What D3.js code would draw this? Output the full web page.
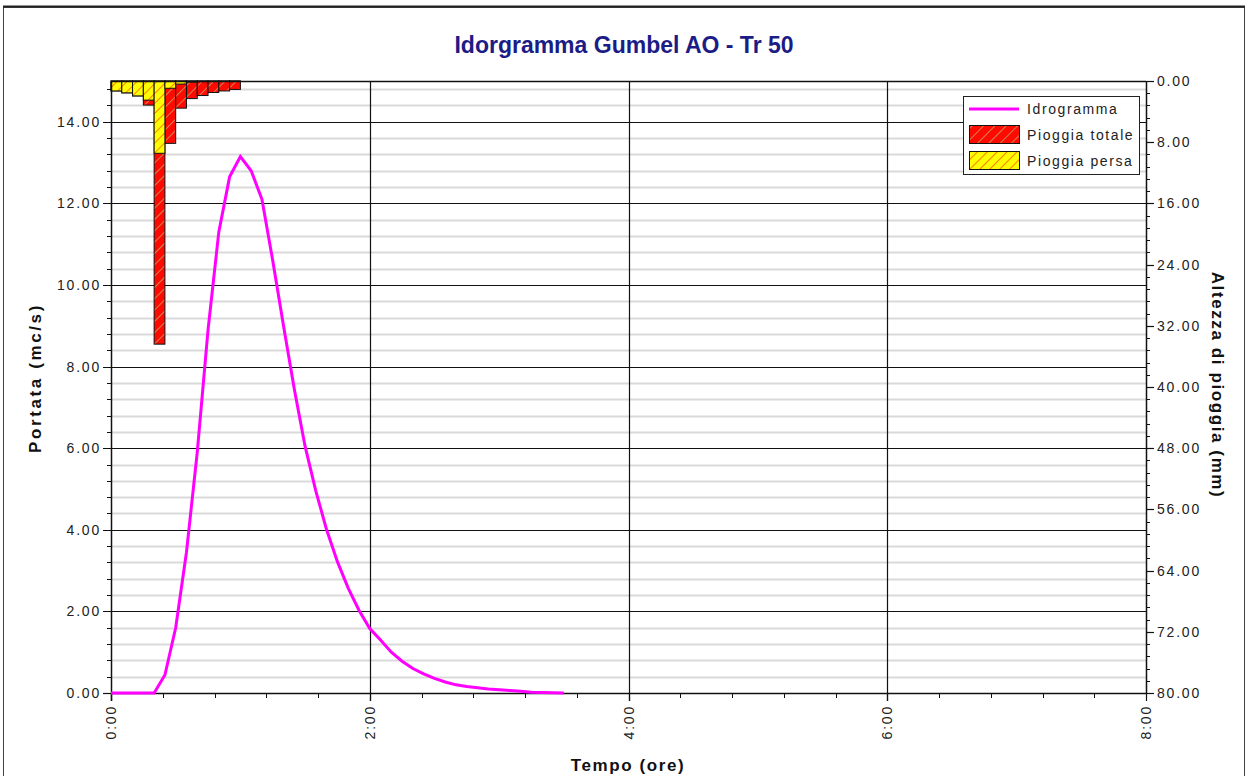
<!DOCTYPE html>
<meta charset="utf-8">
<style>
body { margin: 0; background: #fff; }
svg { display: block; font-family: "Liberation Sans", Arial, sans-serif; }
.tick-label { font-size: 14px; letter-spacing: 1.8px; fill: #222; }
.axis-title { font-size: 17px; font-weight: bold; letter-spacing: 1.6px; fill: #111; }
.legend-text { font-size: 14px; letter-spacing: 1.6px; fill: #222; }
</style>
<body>
<script src="https://cdn.jsdelivr.net/npm/d3@7"></script>
<script>

// hydrograph, one value every 5 minutes (mc/s)
var flowStep = 5 / 60;
var flow = [0, 0, 0, 0, 0, 0.44, 1.6, 3.45, 5.9, 8.9, 11.3, 12.65, 13.15, 12.8, 12.1,
  10.6, 9.0, 7.45, 6.05, 4.95, 4.0, 3.22, 2.57, 2.03, 1.58, 1.3, 1.0, 0.78, 0.6,
  0.47, 0.36, 0.27, 0.2, 0.16, 0.13, 0.1, 0.08, 0.06, 0.04, 0.02, 0.01, 0.005, 0];

// hyetograph, 5 minute intervals (mm)
var rainStep = 5 / 60;
var rainTotal = [1.3, 1.55, 1.95, 3.15, 34.4, 8.15, 3.55, 2.3, 1.9, 1.5, 1.3, 1.1];
var rainLost = [1.3, 1.55, 1.95, 2.5, 9.45, 0.95, 0.4, 0.15, 0.08, 0.05, 0.03, 0.02];

var flowTicks = [0, 2, 4, 6, 8, 10, 12, 14];
var rainTicks = [0, 8, 16, 24, 32, 40, 48, 56, 64, 72, 80];
var timeTicks = [0, 2, 4, 6, 8];

var width = 1248, height = 776;
var pL = 111, pR = 1146, pT = 81, pB = 693;

var x = d3.scaleLinear().domain([0, 8]).range([pL, pR]);
var yL = d3.scaleLinear().domain([0, 15]).range([pB, pT]);
var yR = d3.scaleLinear().domain([0, 80]).range([pT, pB]);

function fmtTime(h) {
  var hh = Math.floor(h), mm = Math.round((h - hh) * 60);
  return hh + ":" + (mm < 10 ? "0" : "") + mm;
}
function px(v) { return Math.round(v) + 0.5; }

var svg = d3.select("body").append("svg")
  .attr("width", width)
  .attr("height", height);

var defs = svg.append("defs");
var pRed = defs.append("pattern")
  .attr("id", "hatchRed")
  .attr("patternUnits", "userSpaceOnUse")
  .attr("width", 8).attr("height", 8)
  .attr("patternTransform", "rotate(45)");
pRed.append("rect").attr("width", 8).attr("height", 8).attr("fill", "#ff0a00");
pRed.append("line").attr("x1", 0).attr("y1", 0).attr("x2", 0).attr("y2", 8)
  .attr("stroke", "#c8a070").attr("stroke-width", 1.6);

var pYel = defs.append("pattern")
  .attr("id", "hatchYellow")
  .attr("patternUnits", "userSpaceOnUse")
  .attr("width", 7).attr("height", 7)
  .attr("patternTransform", "rotate(45)");
pYel.append("rect").attr("width", 7).attr("height", 7).attr("fill", "#ffff00");
pYel.append("line").attr("x1", 0).attr("y1", 0).attr("x2", 0).attr("y2", 7)
  .attr("stroke", "#ff8000").attr("stroke-width", 2);

// outer frame
svg.append("rect")
  .attr("x", 3.5).attr("y", 7.5)
  .attr("width", 1241).attr("height", 780)
  .attr("fill", "none").attr("stroke", "#444").attr("stroke-width", 1);
svg.append("line")
  .attr("x1", 3).attr("x2", 1245).attr("y1", 6.5).attr("y2", 6.5)
  .attr("stroke", "#222").attr("stroke-width", 2);

// title
svg.append("text")
  .attr("x", 624).attr("y", 53)
  .attr("text-anchor", "middle")
  .style("font-size", "23px")
  .style("font-weight", "bold")
  .style("fill", "#1c1c86")
  .text("Idorgramma Gumbel AO - Tr 50");

// minor grid (every 0.4 mc/s)
var minorY = d3.range(0.4, 15, 0.4).filter(function(v) { return Math.abs(v / 2 - Math.round(v / 2)) > 0.01; });
svg.append("g").selectAll("line")
  .data(minorY).enter().append("line")
  .attr("x1", pL).attr("x2", pR)
  .attr("y1", function(d) { return px(yL(d)); })
  .attr("y2", function(d) { return px(yL(d)); })
  .attr("stroke", "#d9d9d9").attr("stroke-width", 2);

// major grid
svg.append("g").selectAll("line")
  .data(flowTicks.filter(function(d) { return d > 0; })).enter().append("line")
  .attr("x1", pL - 8).attr("x2", pR)
  .attr("y1", function(d) { return px(yL(d)); })
  .attr("y2", function(d) { return px(yL(d)); })
  .attr("stroke", "#111").attr("stroke-width", 1.2);
svg.append("g").selectAll("line")
  .data(timeTicks.filter(function(d) { return d > 0 && d < 8; })).enter().append("line")
  .attr("x1", function(d) { return px(x(d)); })
  .attr("x2", function(d) { return px(x(d)); })
  .attr("y1", pT).attr("y2", pB + 8)
  .attr("stroke", "#111").attr("stroke-width", 1.2);

// rain bars
var bars = svg.append("g");
bars.selectAll("rect.tot")
  .data(rainTotal).enter().append("rect")
  .attr("class", "tot")
  .attr("x", function(d, i) { return x(i * rainStep); })
  .attr("width", function(d, i) { return x((i + 1) * rainStep) - x(i * rainStep); })
  .attr("y", yR(0))
  .attr("height", function(d) { return yR(d) - yR(0); })
  .attr("fill", "url(#hatchRed)")
  .attr("stroke", "#111").attr("stroke-width", 1);
bars.selectAll("rect.lost")
  .data(rainLost).enter().append("rect")
  .attr("class", "lost")
  .attr("x", function(d, i) { return x(i * rainStep); })
  .attr("width", function(d, i) { return x((i + 1) * rainStep) - x(i * rainStep); })
  .attr("y", yR(0))
  .attr("height", function(d) { return yR(d) - yR(0); })
  .attr("fill", "url(#hatchYellow)")
  .attr("stroke", "#111").attr("stroke-width", 1);

// plot frame
svg.append("line").attr("x1", pL).attr("x2", pR).attr("y1", pT + 0.5).attr("y2", pT + 0.5)
  .attr("stroke", "#111").attr("stroke-width", 1.5);

// left axis
var gl = svg.append("g");
gl.append("line").attr("x1", pL + 0.5).attr("x2", pL + 0.5).attr("y1", pT).attr("y2", pB + 8)
  .attr("stroke", "#111").attr("stroke-width", 1.5);
gl.append("line").attr("x1", pL - 8).attr("x2", pL).attr("y1", px(yL(0))).attr("y2", px(yL(0)))
  .attr("stroke", "#111").attr("stroke-width", 1.2);
gl.selectAll("line.minor").data(minorY).enter().append("line")
  .attr("class", "minor")
  .attr("x1", pL - 4).attr("x2", pL)
  .attr("y1", function(d) { return px(yL(d)); })
  .attr("y2", function(d) { return px(yL(d)); })
  .attr("stroke", "#111");
gl.selectAll("text").data(flowTicks).enter().append("text")
  .attr("class", "tick-label")
  .attr("x", pL - 10).attr("y", function(d) { return yL(d) + 5; })
  .attr("text-anchor", "end")
  .text(function(d) { return d.toFixed(2); });

// right axis
var gr = svg.append("g");
gr.append("line").attr("x1", pR + 0.5).attr("x2", pR + 0.5).attr("y1", pT).attr("y2", pB)
  .attr("stroke", "#111").attr("stroke-width", 1.5);
gr.selectAll("line.major").data(rainTicks).enter().append("line")
  .attr("class", "major")
  .attr("x1", pR).attr("x2", pR + 8)
  .attr("y1", function(d) { return px(yR(d)); })
  .attr("y2", function(d) { return px(yR(d)); })
  .attr("stroke", "#111").attr("stroke-width", 1.2);
gr.selectAll("line.minor").data(d3.range(1.6, 80, 1.6)).enter().append("line")
  .attr("class", "minor")
  .attr("x1", pR).attr("x2", pR + 4)
  .attr("y1", function(d) { return px(yR(d)); })
  .attr("y2", function(d) { return px(yR(d)); })
  .attr("stroke", "#111");
gr.selectAll("text").data(rainTicks).enter().append("text")
  .attr("class", "tick-label")
  .attr("x", pR + 11).attr("y", function(d) { return yR(d) + 5; })
  .text(function(d) { return d.toFixed(2); });

// bottom axis
var gb = svg.append("g");
gb.append("line").attr("x1", pL).attr("x2", pR).attr("y1", pB + 0.5).attr("y2", pB + 0.5)
  .attr("stroke", "#111").attr("stroke-width", 1.5);
gb.selectAll("line.major").data(timeTicks).enter().append("line")
  .attr("class", "major")
  .attr("x1", function(d) { return px(x(d)); })
  .attr("x2", function(d) { return px(x(d)); })
  .attr("y1", pB).attr("y2", pB + 8)
  .attr("stroke", "#111").attr("stroke-width", 1.2);
gb.selectAll("line.minor").data(d3.range(0.4, 8, 0.4)).enter().append("line")
  .attr("class", "minor")
  .attr("x1", function(d) { return px(x(d)); })
  .attr("x2", function(d) { return px(x(d)); })
  .attr("y1", pB).attr("y2", pB + 5)
  .attr("stroke", "#111");
gb.selectAll("text").data(timeTicks).enter().append("text")
  .attr("class", "tick-label")
  .attr("transform", function(d) { return "translate(" + (x(d) + 5) + "," + (pB + 12) + ") rotate(-90)"; })
  .attr("text-anchor", "end")
  .text(fmtTime);

// hydrograph
var line = d3.line()
  .x(function(d, i) { return x(i * flowStep); })
  .y(function(d) { return yL(d); });
svg.append("path")
  .datum(flow)
  .attr("d", line)
  .attr("fill", "none")
  .attr("stroke", "#ff00ff")
  .attr("stroke-width", 3);

// axis titles
svg.append("text").attr("class", "axis-title")
  .attr("transform", "translate(41,378) rotate(-90)")
  .attr("text-anchor", "middle")
  .style("letter-spacing", "2.6px")
  .text("Portata (mc/s)");
svg.append("text").attr("class", "axis-title")
  .attr("x", 628).attr("y", 771)
  .attr("text-anchor", "middle")
  .text("Tempo (ore)");
svg.append("text").attr("class", "axis-title")
  .attr("transform", "translate(1212,385) rotate(90)")
  .attr("text-anchor", "middle")
  .text("Altezza di pioggia (mm)");

// legend
var lg = svg.append("g");
lg.append("rect").attr("x", 963.5).attr("y", 96.5).attr("width", 176).attr("height", 78)
  .attr("fill", "#fff").attr("stroke", "#222");
var items = [
  { name: "Idrogramma", type: "line" },
  { name: "Pioggia totale", fill: "url(#hatchRed)" },
  { name: "Pioggia persa", fill: "url(#hatchYellow)" }
];
items.forEach(function(it, i) {
  var cy = 109 + i * 26;
  if (it.type === "line") {
    lg.append("line").attr("x1", 969).attr("x2", 1019).attr("y1", cy).attr("y2", cy)
      .attr("stroke", "#ff00ff").attr("stroke-width", 3);
  } else {
    lg.append("rect").attr("x", 969.5).attr("y", cy - 9.5).attr("width", 50).attr("height", 18)
      .attr("fill", it.fill).attr("stroke", "#111");
  }
  lg.append("text").attr("class", "legend-text")
    .attr("x", 1027).attr("y", cy + 5)
    .text(it.name);
});

</script>
</body>
